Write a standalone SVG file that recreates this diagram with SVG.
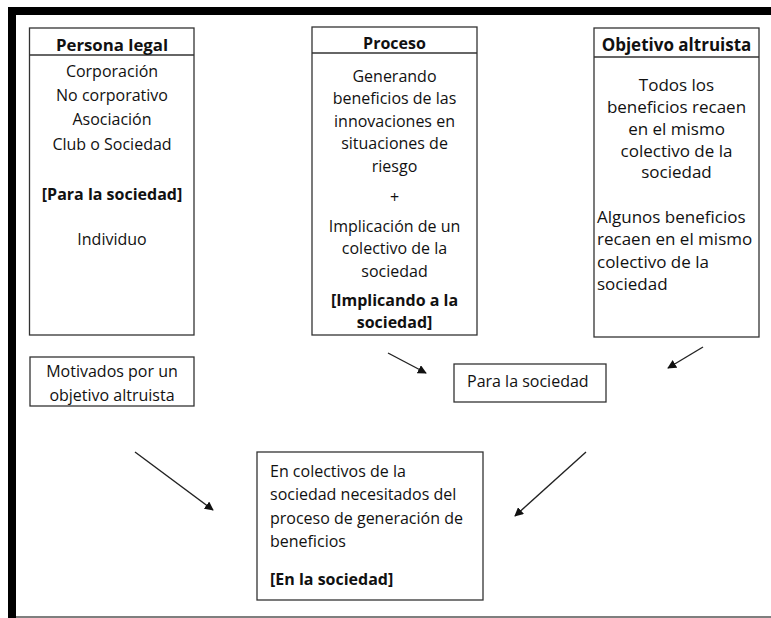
<svg xmlns="http://www.w3.org/2000/svg" width="771" height="618" viewBox="0 0 771 618">
<defs>
<style>
.box{fill:#fff;stroke:#333;stroke-width:1.3}
.t{font-family:"Open Sans","Noto Sans",sans-serif;font-size:16px;fill:#111}
.c{text-anchor:middle}
.b{font-weight:bold}
.h{font-size:16.8px}
.big{font-size:17px}
.conn line{stroke:#222;stroke-width:1.4;marker-end:url(#ah)}
</style>
<marker id="ah" viewBox="0 0 10 10" refX="9" refY="5" markerWidth="9" markerHeight="9" markerUnits="userSpaceOnUse" orient="auto">
<path d="M0,0 L10,5 L0,10 z" fill="#111"/>
</marker>
</defs>
<rect width="771" height="618" fill="#fff"/>
<g id="frame">
<rect x="8" y="7" width="763" height="8" fill="#000"/>
<rect x="8" y="7" width="8" height="611" fill="#000"/>
<line x1="16" y1="617" x2="771" y2="617" stroke="#555" stroke-width="1.5"/>
</g>
<g id="persona-legal">
<rect class="box" x="29.5" y="28" width="164.5" height="307"/>
<line x1="29.5" y1="55" x2="194" y2="55" stroke="#333" stroke-width="1.3"/>
<text class="t c b h" x="112" y="50.5">Persona legal</text>
<text class="t c" x="112" y="77">Corporación</text>
<text class="t c" x="112" y="101">No corporativo</text>
<text class="t c" x="112" y="125">Asociación</text>
<text class="t c" x="112" y="150">Club o Sociedad</text>
<text class="t c b" x="112" y="200">[Para la sociedad]</text>
<text class="t c" x="112" y="245">Individuo</text>
</g>
<g id="proceso">
<rect class="box" x="312" y="27" width="165" height="308"/>
<line x1="312" y1="53" x2="477" y2="53" stroke="#333" stroke-width="1.3"/>
<text class="t c b" x="394.5" y="49">Proceso</text>
<text class="t c" x="394.5" y="82">Generando</text>
<text class="t c" x="394.5" y="104">beneficios de las</text>
<text class="t c" x="394.5" y="127">innovaciones en</text>
<text class="t c" x="394.5" y="149">situaciones de</text>
<text class="t c" x="394.5" y="172">riesgo</text>
<text class="t c" x="394.5" y="203">+</text>
<text class="t c" x="394.5" y="232">Implicación de un</text>
<text class="t c" x="394.5" y="254">colectivo de la</text>
<text class="t c" x="394.5" y="277">sociedad</text>
<text class="t c b" x="394.5" y="306">[Implicando a la</text>
<text class="t c b" x="394.5" y="328">sociedad]</text>
</g>
<g id="objetivo-altruista">
<rect class="box" x="594" y="28" width="165" height="309"/>
<line x1="594" y1="57" x2="759" y2="57" stroke="#333" stroke-width="1.3"/>
<text class="t c b big" x="676.5" y="51">Objetivo altruista</text>
<text class="t c big" x="676.5" y="91">Todos los</text>
<text class="t c big" x="676.5" y="113">beneficios recaen</text>
<text class="t c big" x="676.5" y="135">en el mismo</text>
<text class="t c big" x="676.5" y="157">colectivo de la</text>
<text class="t c big" x="676.5" y="178">sociedad</text>
<text class="t big" x="597" y="223">Algunos beneficios</text>
<text class="t big" x="597" y="245">recaen en el mismo</text>
<text class="t big" x="597" y="268">colectivo de la</text>
<text class="t big" x="597" y="290">sociedad</text>
</g>
<g id="motivados">
<rect class="box" x="30" y="357" width="164" height="49"/>
<text class="t c" x="112" y="377">Motivados por un</text>
<text class="t c" x="112" y="401">objetivo altruista</text>
</g>
<g id="para-la-sociedad">
<rect class="box" x="454" y="364" width="152" height="38"/>
<text class="t" x="467" y="387">Para la sociedad</text>
</g>
<g id="en-la-sociedad">
<rect class="box" x="257" y="452" width="226" height="148"/>
<text class="t" x="270" y="477">En colectivos de la</text>
<text class="t" x="270" y="500">sociedad necesitados del</text>
<text class="t" x="270" y="524">proceso de generación de</text>
<text class="t" x="270" y="547">beneficios</text>
<text class="t b" x="270" y="585">[En la sociedad]</text>
</g>
<g id="connectors" class="conn">
<line x1="388" y1="353" x2="426" y2="373"/>
<line x1="703" y1="347" x2="668" y2="368"/>
<line x1="135" y1="452" x2="213" y2="510"/>
<line x1="586" y1="452" x2="515" y2="516"/>
</g>
</svg>
